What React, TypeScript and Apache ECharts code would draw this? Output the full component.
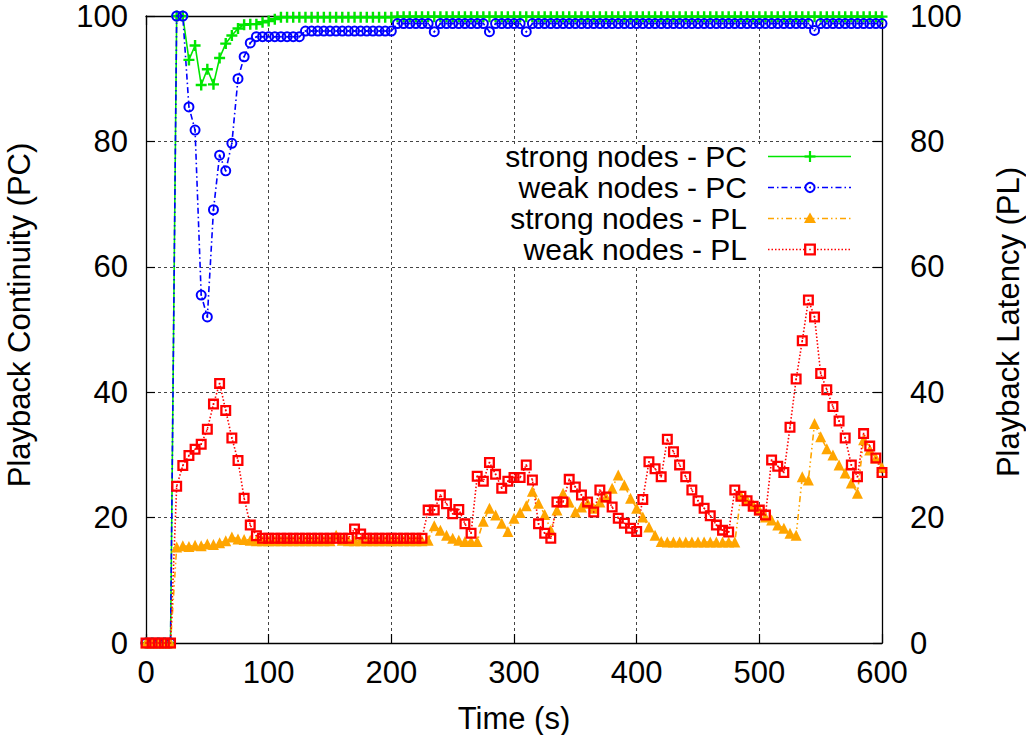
import React, { useEffect, useRef } from "react";
import * as echarts from "echarts";

// Time (s)
const times = [
  0, 5, 10, 15, 20, 25, 30, 35, 40, 45,
  50, 55, 60, 65, 70, 75, 80, 85, 90, 95,
  100, 105, 110, 115, 120, 125, 130, 135, 140, 145,
  150, 155, 160, 165, 170, 175, 180, 185, 190, 195,
  200, 205, 210, 215, 220, 225, 230, 235, 240, 245,
  250, 255, 260, 265, 270, 275, 280, 285, 290, 295,
  300, 305, 310, 315, 320, 325, 330, 335, 340, 345,
  350, 355, 360, 365, 370, 375, 380, 385, 390, 395,
  400, 405, 410, 415, 420, 425, 430, 435, 440, 445,
  450, 455, 460, 465, 470, 475, 480, 485, 490, 495,
  500, 505, 510, 515, 520, 525, 530, 535, 540, 545,
  550, 555, 560, 565, 570, 575, 580, 585, 590, 595,
  600,
];

const strongPC = [
  0, 0, 0, 0, 0, 100, 100, 93, 95.3, 89,
  91.5, 89.1, 93.3, 95.6, 96.9, 98, 98.6, 98.7, 98.7, 99,
  99.2, 99.5, 99.8, 99.8, 99.8, 99.8, 99.8, 99.8, 99.8, 99.8,
  99.8, 99.8, 99.8, 99.8, 99.8, 99.8, 99.8, 99.8, 99.8, 99.8,
  99.8, 99.9, 99.9, 99.9, 99.9, 99.9, 99.9, 99.9, 99.9, 99.9,
  99.9, 99.9, 99.9, 99.9, 99.9, 99.9, 99.9, 99.9, 99.9, 99.9,
  99.9, 99.9, 99.9, 99.9, 99.9, 99.9, 99.9, 99.9, 99.9, 99.9,
  99.9, 99.9, 99.9, 99.9, 99.9, 99.9, 99.9, 99.9, 99.9, 99.9,
  99.9, 99.9, 99.9, 99.9, 99.9, 99.9, 99.9, 99.9, 99.9, 99.9,
  99.9, 99.9, 99.9, 99.9, 99.9, 99.9, 99.9, 99.9, 99.9, 99.9,
  99.9, 99.9, 99.9, 99.9, 99.9, 99.9, 99.9, 99.9, 99.9, 99.9,
  99.9, 99.9, 99.9, 99.9, 99.9, 99.9, 99.9, 99.9, 99.9, 99.9,
  99.9,
];

const weakPC = [
  0, 0, 0, 0, 0, 100, 100, 85.5, 81.8, 55.5,
  52, 69.1, 77.8, 75.3, 79.7, 90, 93.5, 95.7, 96.7, 96.7,
  96.7, 96.7, 96.7, 96.7, 96.7, 96.7, 97.6, 97.6, 97.6, 97.6,
  97.6, 97.6, 97.6, 97.6, 97.6, 97.6, 97.6, 97.6, 97.6, 97.6,
  97.6, 98.8, 98.8, 98.8, 98.8, 98.8, 98.8, 97.5, 98.8, 98.8,
  98.8, 98.8, 98.8, 98.8, 98.8, 98.8, 97.5, 98.8, 98.8, 98.8,
  98.8, 98.8, 97.5, 98.8, 98.8, 98.8, 98.8, 98.8, 98.8, 98.8,
  98.8, 98.8, 98.8, 98.8, 98.8, 98.8, 98.8, 98.8, 98.8, 98.8,
  98.8, 98.8, 98.8, 98.8, 98.8, 98.8, 98.8, 98.8, 98.8, 98.8,
  98.8, 98.8, 98.8, 98.8, 98.8, 98.8, 98.8, 98.8, 98.8, 98.8,
  98.8, 98.8, 98.8, 98.8, 98.8, 98.8, 98.8, 98.8, 98.8, 97.7,
  98.8, 98.8, 98.8, 98.8, 98.8, 98.8, 98.8, 98.8, 98.8, 98.8,
  98.8,
];

const strongPL = [
  0, 0, 0, 0, 0, 15.3, 15.5, 15.4, 15.6, 15.5,
  15.8, 15.7, 16.0, 16.3, 16.9, 16.6, 16.5, 16.4, 16.3, 16.3,
  16.3, 16.3, 16.3, 16.3, 16.3, 16.3, 16.3, 16.3, 16.3, 16.3,
  16.3, 17.2, 16.4, 16.3, 16.3, 16.3, 16.3, 16.3, 16.3, 16.3,
  16.3, 16.3, 16.3, 16.3, 16.3, 16.3, 16.4, 18.7, 18.0, 17.2,
  16.7, 16.4, 16.2, 16.2, 16.2, 19.4, 21.5, 20.4, 19.1, 17.8,
  19.9, 20.8, 21.9, 24.2, 22.3, 20.5, 18.0, 21.2, 23.9, 22.5,
  20.9, 21.7, 22.3, 21.5, 22.5, 23.3, 24.7, 26.8, 25.2, 23.1,
  21.5, 20.1, 18.5, 17.2, 16.2, 16.1, 16.1, 16.1, 16.1, 16.1,
  16.1, 16.1, 16.1, 16.1, 16.1, 16.1, 16.1, 23.5, 22.8, 22.0,
  21.2, 20.1, 19.6, 18.8, 18.3, 17.5, 17.2, 26.5, 26.0, 35.0,
  32.9, 31.0, 30.0, 28.4, 27.1, 25.5, 23.9, 32.4, 30.8, 29.5,
  28.0,
];

const weakPL = [
  0, 0, 0, 0, 0, 25.0, 28.3, 29.9, 30.9, 31.7,
  34.1, 38.1, 41.4, 37.1, 32.7, 29.1, 23.1, 18.8, 17.1, 16.7,
  16.7, 16.7, 16.7, 16.7, 16.7, 16.7, 16.7, 16.7, 16.7, 16.7,
  16.7, 16.7, 16.7, 16.7, 18.2, 17.4, 16.7, 16.7, 16.7, 16.7,
  16.7, 16.7, 16.7, 16.7, 16.7, 16.7, 21.2, 21.2, 23.6, 22.2,
  20.6, 21.3, 19.0, 17.5, 26.6, 25.8, 28.8, 26.9, 24.7, 25.8,
  26.4, 26.4, 28.4, 26.0, 19.0, 17.5, 16.7, 22.5, 22.5, 26.1,
  24.9, 23.6, 22.5, 20.9, 24.4, 23.3, 21.7, 19.9, 19.1, 18.3,
  17.8, 22.9, 28.9, 27.8, 26.5, 32.5, 30.5, 28.4, 26.5, 24.4,
  22.7, 21.5, 20.3, 18.8, 18.0, 17.7, 24.4, 23.4, 22.7, 21.8,
  21.2, 20.4, 29.2, 28.2, 27.2, 34.4, 42.1, 48.2, 54.7, 52.0,
  43.0, 40.4, 37.7, 35.4, 32.7, 28.4, 26.5, 33.4, 31.4, 29.5,
  27.2,
];

const seriesNames = ["strong nodes - PC", "weak nodes - PC", "strong nodes - PL", "weak nodes - PL"];
const seriesColors = ["#00e600", "#0000ff", "#ffa500", "#ff0000"];
const xTitle = "Time (s)";
const yLeftTitle = "Playback Continuity (PC)";
const yRightTitle = "Playback Latency (PL)";

const FONT = "'Liberation Sans', Arial, Helvetica, sans-serif";
const FS = 31;
const KEY_FS = 30;

const PLUS = "path://M3.9,0H6.1V3.9H10V6.1H6.1V10H3.9V6.1H0V3.9H3.9Z";
const RING =
  "path://M0,5A5,5 0 1,0 10,5A5,5 0 1,0 0,5Z M1.8,5A3.2,3.2 0 1,1 8.2,5A3.2,3.2 0 1,1 1.8,5Z M4.1,5A0.9,0.9 0 1,0 5.9,5A0.9,0.9 0 1,0 4.1,5Z";
const SQUARE = "path://M0,0H10V10H0Z M2.1,2.1V7.9H7.9V2.1Z M4.3,4.3H5.7V5.7H4.3Z";

const dashes: any[] = ["solid", [6, 3, 1.5, 3], [6, 3, 1.5, 3, 1.5, 3], [1.5, 2]];

export default function App() {
  const ref = useRef<HTMLDivElement>(null);

  useEffect(() => {
    if (!ref.current) return;
    const chart = echarts.init(ref.current, undefined, { renderer: "svg" });

    const axisLine = { show: true, onZero: false, lineStyle: { color: "#000", width: 1.3 } };
    const axisTick = { show: true, inside: true, length: 9, lineStyle: { color: "#000", width: 1.2 } };
    const labelStyle = { fontSize: FS, fontFamily: FONT, color: "#000" };
    const split = { show: true, lineStyle: { color: "#444", width: 1, type: [3, 3] } };

    const mk = (vals: number[], idx: number, symbol: string, size: number, yIdx: number) => ({
      name: seriesNames[idx],
      type: "line",
      xAxisIndex: 0,
      yAxisIndex: yIdx,
      data: times.map((t, i) => [t, vals[i]]),
      symbol,
      symbolSize: size,
      showSymbol: true,
      silent: true,
      emphasis: { disabled: true },
      lineStyle: { color: seriesColors[idx], width: 1.6, type: dashes[idx] },
      itemStyle: { color: seriesColors[idx] },
    });

    const rowsY = [156.5, 187.5, 218.5, 249.5];
    const textRight = 747;
    const lx1 = 768;
    const lx2 = 851;
    const mx = 810;
    const legendEls: any[] = [
      {
        type: "rect",
        z: 1,
        shape: { x: 495, y: 144, width: 364, height: 122 },
        style: { fill: "#fff" },
      },
    ];
    rowsY.forEach((cy, i) => {
      legendEls.push({
        type: "text",
        z: 5,
        x: textRight,
        y: cy,
        style: {
          text: seriesNames[i],
          fontSize: KEY_FS,
          lineHeight: 30,
          fontFamily: FONT,
          fill: "#000",
          align: "right",
          verticalAlign: "middle",
        },
      });
      legendEls.push({
        type: "line",
        z: 5,
        shape: { x1: lx1, y1: cy, x2: lx2, y2: cy },
        style: {
          stroke: seriesColors[i],
          lineWidth: 1.6,
          lineDash: dashes[i] === "solid" ? null : dashes[i],
        },
      });
    });
    // markers in the key
    legendEls.push(
      { type: "line", z: 6, shape: { x1: mx - 5.5, y1: rowsY[0], x2: mx + 5.5, y2: rowsY[0] }, style: { stroke: seriesColors[0], lineWidth: 2.2 } },
      { type: "line", z: 6, shape: { x1: mx, y1: rowsY[0] - 5.5, x2: mx, y2: rowsY[0] + 5.5 }, style: { stroke: seriesColors[0], lineWidth: 2.2 } },
      { type: "circle", z: 6, shape: { cx: mx, cy: rowsY[1], r: 4.6 }, style: { fill: "#fff", stroke: seriesColors[1], lineWidth: 2 } },
      { type: "circle", z: 7, shape: { cx: mx, cy: rowsY[1], r: 1 }, style: { fill: seriesColors[1] } },
      { type: "polygon", z: 6, shape: { points: [[mx, rowsY[2] - 6], [mx + 6, rowsY[2] + 4.5], [mx - 6, rowsY[2] + 4.5]] }, style: { fill: seriesColors[2] } },
      { type: "rect", z: 6, shape: { x: mx - 4.8, y: rowsY[3] - 4.8, width: 9.6, height: 9.6 }, style: { fill: "#fff", stroke: seriesColors[3], lineWidth: 2.3 } },
      { type: "rect", z: 7, shape: { x: mx - 0.8, y: rowsY[3] - 0.8, width: 1.6, height: 1.6 }, style: { fill: seriesColors[3] } }
    );

    const titles: any[] = [
      {
        type: "text",
        x: 514,
        y: 718,
        style: { text: xTitle, fontSize: FS, fontFamily: FONT, fill: "#000", align: "center", verticalAlign: "middle" },
      },
      {
        type: "text",
        x: 19,
        y: 315,
        rotation: Math.PI / 2,
        style: { text: yLeftTitle, fontSize: FS, fontFamily: FONT, fill: "#000", align: "center", verticalAlign: "middle" },
      },
      {
        type: "text",
        x: 1008,
        y: 322,
        rotation: Math.PI / 2,
        style: { text: yRightTitle, fontSize: FS, fontFamily: FONT, fill: "#000", align: "center", verticalAlign: "middle" },
      },
    ];

    const option: any = {
      animation: false,
      backgroundColor: "#fff",
      grid: { left: 146, right: 144, top: 16, bottom: 92, containLabel: false },
      xAxis: [
        {
          type: "value",
          min: 0,
          max: 600,
          interval: 100,
          position: "bottom",
          axisLine,
          axisTick,
          axisLabel: { ...labelStyle, margin: 14 },
          splitLine: split,
        },
        {
          type: "value",
          min: 0,
          max: 600,
          interval: 100,
          position: "top",
          axisLine,
          axisTick,
          axisLabel: { show: false },
          splitLine: { show: false },
        },
      ],
      yAxis: [
        {
          type: "value",
          min: 0,
          max: 100,
          interval: 20,
          position: "left",
          axisLine,
          axisTick,
          axisLabel: { ...labelStyle, margin: 18 },
          splitLine: split,
        },
        {
          type: "value",
          min: 0,
          max: 100,
          interval: 20,
          position: "right",
          axisLine,
          axisTick,
          axisLabel: { ...labelStyle, margin: 28 },
          splitLine: { show: false },
        },
      ],
      graphic: { elements: [...legendEls, ...titles] },
      series: [
        mk(strongPC, 0, PLUS, 11, 0),
        mk(weakPC, 1, RING, 11, 0),
        mk(strongPL, 2, "triangle", 11, 1),
        mk(weakPL, 3, SQUARE, 11, 1),
      ],
    };

    chart.setOption(option);
    return () => {
      chart.dispose();
    };
  }, []);

  return (
    <div
      ref={ref}
      style={{ position: "absolute", left: 0, top: 0, width: 1026, height: 735, background: "#fff" }}
    />
  );
}
